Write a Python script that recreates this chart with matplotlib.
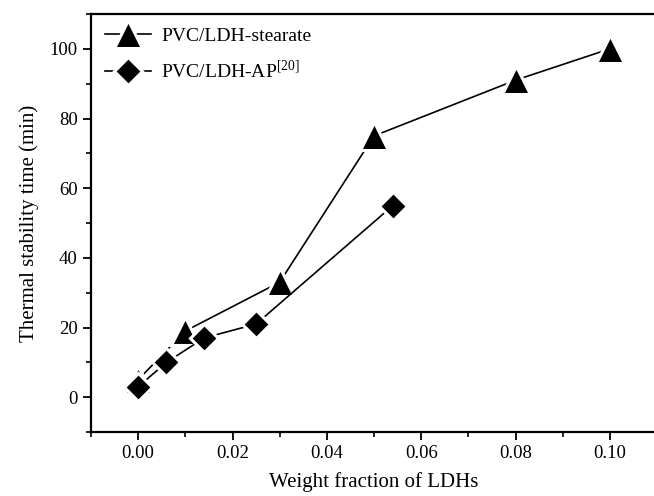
import matplotlib
matplotlib.use("Agg")
import matplotlib.pyplot as plt
from matplotlib.ticker import MultipleLocator

plt.rcParams["font.family"] = ["Liberation Serif", "DejaVu Serif"]
plt.rcParams["mathtext.fontset"] = "stix"

# data
stearate_x = [0.0, 0.01, 0.03, 0.05, 0.08, 0.10]
stearate_y = [5, 19, 33, 75, 91, 100]
ap_x = [0.0, 0.006, 0.014, 0.025, 0.054]
ap_y = [3, 10, 17, 21, 55]

fig = plt.figure(figsize=(6.54, 4.96), dpi=100)
ax = fig.add_axes([91 / 654, 64 / 496, 566 / 654, 418 / 496])

ax.plot(stearate_x, stearate_y, color="black", lw=1.2, marker="^", ms=20,
        mfc="black", mec="white", mew=2.2, label="PVC/LDH-stearate")
ax.plot(ap_x, ap_y, color="black", lw=1.2, marker="D", ms=14,
        mfc="black", mec="white", mew=2.2, label="PVC/LDH-AP$^{\\mathregular{[20]}}$")

ax.set_xlim(-0.01, 0.11)
ax.set_ylim(-10, 110)
ax.xaxis.set_major_locator(MultipleLocator(0.02))
ax.xaxis.set_minor_locator(MultipleLocator(0.01))
ax.yaxis.set_major_locator(MultipleLocator(20))
ax.yaxis.set_minor_locator(MultipleLocator(10))
ax.xaxis.set_major_formatter(plt.FuncFormatter(lambda v, p: f"{v:.2f}"))
ax.yaxis.set_major_formatter(plt.FuncFormatter(lambda v, p: f"{v:.0f}"))

ax.tick_params(which="major", direction="out", length=6, width=1.3, labelsize=13.5)
ax.tick_params(which="minor", direction="out", length=3.5, width=1.2)
for spine in ax.spines.values():
    spine.set_linewidth(1.6)

ax.set_xlabel("Weight fraction of LDHs", fontsize=15, labelpad=7)
ax.set_ylabel("Thermal stability time (min)", fontsize=15, labelpad=8)

ax.legend(loc="upper left", frameon=False, fontsize=14, handlelength=2.4,
          borderaxespad=0.3, labelspacing=0.75, handletextpad=0.5)

fig.savefig("out.png", dpi=100)
